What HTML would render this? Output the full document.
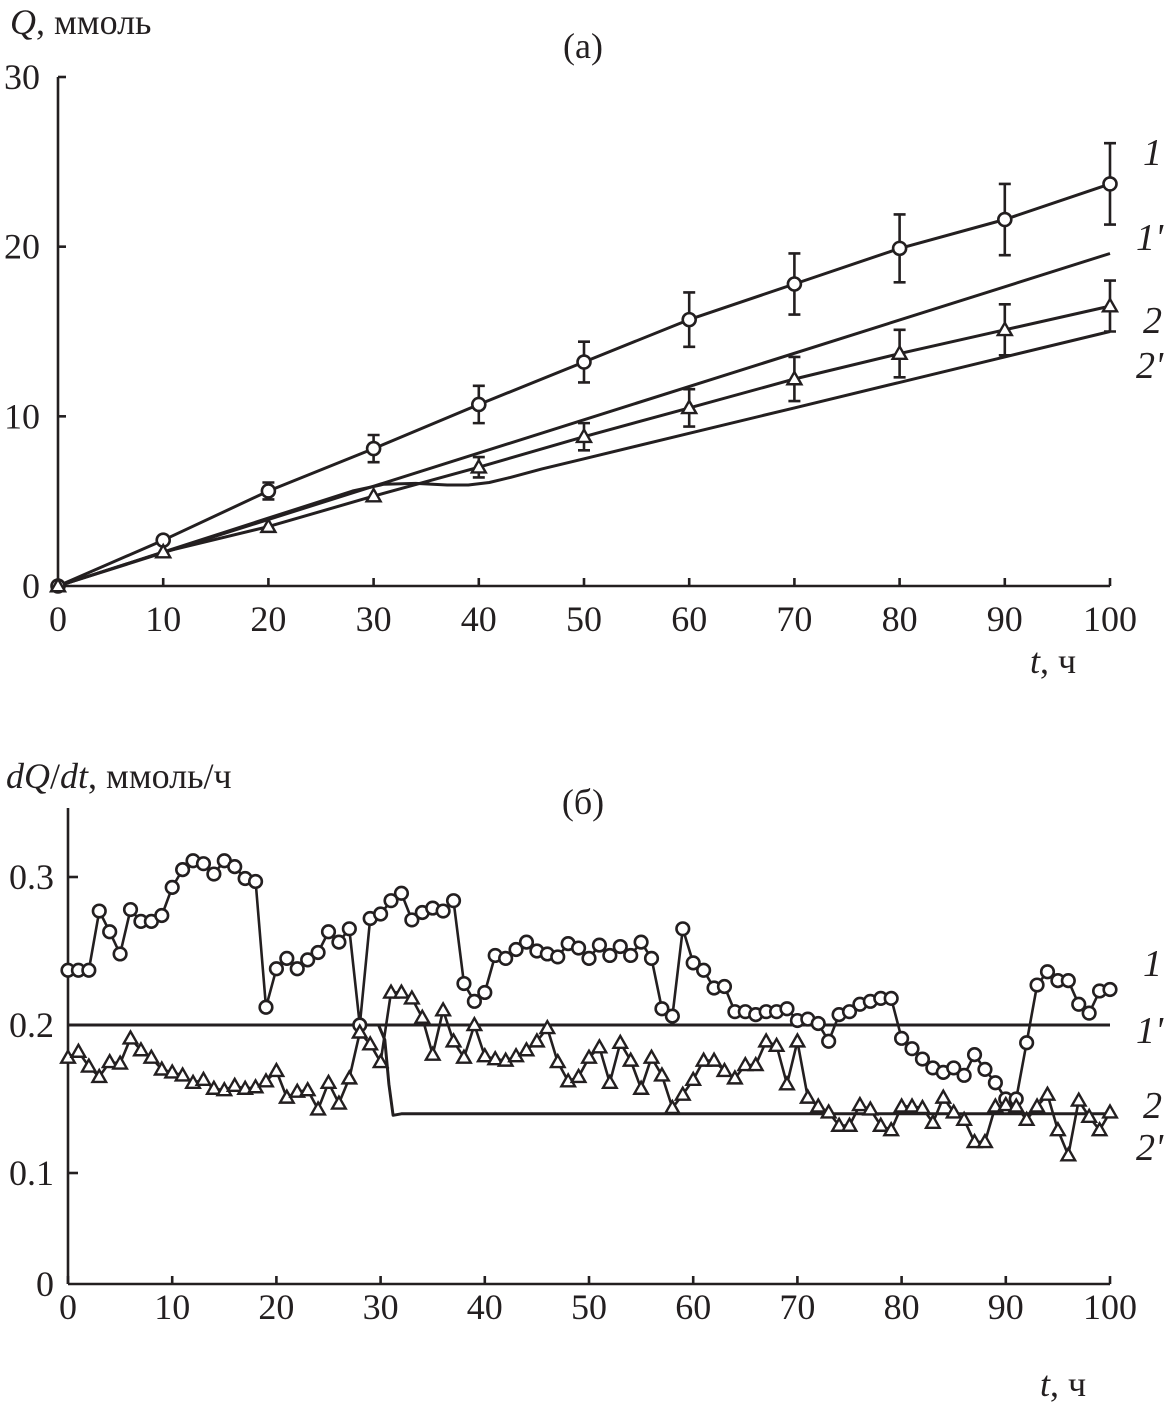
<!DOCTYPE html>
<html><head><meta charset="utf-8"><style>
html,body{margin:0;padding:0;background:#fff}
svg{display:block}
text{font-family:"Liberation Serif",serif;fill:#231f20}
</style></head><body>
<svg id="c" width="1164" height="1416" viewBox="0 0 1164 1416"></svg>
<script>
// ---------- data (a) ----------
const aT = [0,10,20,30,40,50,60,70,80,90,100];
const a1 = [0,2.7,5.6,8.1,10.7,13.2,15.7,17.8,19.9,21.6,23.7];
const a1Err = [0,0,0.5,0.8,1.1,1.2,1.6,1.8,2.0,2.1,2.4];
const a2 = [0,2.0,3.5,5.3,7.0,8.8,10.5,12.2,13.7,15.1,16.5];
const a2Err = [0,0,0,0,0.6,0.8,1.1,1.3,1.4,1.5,1.5];
const a1pT = [0,100];
const a1p = [0,19.6];
const a2pT = [0,10,20,28,31,34,37,39,41,43,46,50,60,70,80,90,100];
const a2p = [0,2.0,4.0,5.6,6.0,6.05,5.95,5.95,6.1,6.4,6.9,7.5,9.0,10.5,12.0,13.5,15.0];
const aXTicks = [0,10,20,30,40,50,60,70,80,90,100];
const aYTicks = [0,10,20,30];
// ---------- data (b) ----------
const b1 = [0.237,0.237,0.237,0.277,0.263,0.248,0.278,0.270,0.270,0.274,0.293,0.305,0.311,0.309,0.302,0.311,0.307,0.299,0.297,0.212,
0.238,0.245,0.238,0.244,0.249,0.263,0.256,0.265,0.200,0.272,0.275,0.284,0.289,0.271,0.276,0.279,0.277,0.284,0.228,0.216,
0.222,0.247,0.245,0.251,0.256,0.250,0.248,0.246,0.255,0.252,0.245,0.254,0.247,0.253,0.247,0.256,0.245,0.211,0.206,0.265,
0.242,0.237,0.225,0.226,0.209,0.209,0.207,0.209,0.209,0.211,0.203,0.204,0.201,0.189,0.207,0.209,0.214,0.216,0.218,0.218,
0.191,0.184,0.177,0.171,0.168,0.171,0.166,0.180,0.170,0.161,0.150,0.150,0.188,0.227,0.236,0.230,0.230,0.214,0.208,0.223,0.224];
const b2 = [0.178,0.182,0.172,0.165,0.175,0.174,0.191,0.183,0.178,0.170,0.168,0.166,0.161,0.163,0.157,0.156,0.159,0.157,0.158,0.162,
0.169,0.151,0.155,0.156,0.143,0.161,0.147,0.164,0.195,0.187,0.175,0.222,0.222,0.218,0.205,0.180,0.210,0.189,0.178,0.200,
0.179,0.177,0.176,0.179,0.183,0.189,0.198,0.175,0.162,0.165,0.178,0.185,0.161,0.188,0.176,0.157,0.178,0.166,0.144,0.153,
0.163,0.176,0.176,0.169,0.164,0.173,0.173,0.189,0.186,0.160,0.189,0.151,0.145,0.141,0.132,0.132,0.146,0.143,0.132,0.129,
0.145,0.145,0.144,0.134,0.151,0.141,0.136,0.121,0.121,0.145,0.146,0.145,0.136,0.145,0.153,0.129,0.112,0.149,0.138,0.129,0.141];
const b1pT = [0,100];
const b1p = [0.2,0.2];
const b2pT = [0,29.8,30.4,30.8,31.2,32,100];
const b2p = [0.2,0.2,0.19,0.16,0.139,0.14,0.14];
const bXTicks = [0,10,20,30,40,50,60,70,80,90,100];
const bYTicks = [0.1,0.2,0.3];

const svg = document.getElementById('c');
const NS = 'http://www.w3.org/2000/svg';
function mk(tag, attrs, parent){const e=document.createElementNS(NS,tag);for(const k in attrs)e.setAttribute(k,attrs[k]);(parent||svg).appendChild(e);return e;}
const stroke = '#231f20';

const ax = t => 58 + t*(1110-58)/100;
const ay = v => 586 - v*(586-77)/30;
const bx = t => 68 + t*(1110-68)/100;
const by = v => 1025 - (v-0.2)*1480;

function poly(xs, ys, fx, fy, name, w){
  const pts = xs.map((x,i)=>fx(x).toFixed(1)+','+fy(ys[i]).toFixed(1)).join(' ');
  const p = mk('polyline',{points:pts,fill:'none',stroke:stroke,'stroke-width':w||3,'stroke-linejoin':'round'});
  
  
  return p;
}
function circle(x,y,name,r){const c=mk('circle',{cx:x,cy:y,r:r||6,fill:'#fff',stroke:stroke,'stroke-width':2.6});
  
  }
function tri(x,y,name,s){s=s||7;const t=mk('polygon',{points:`${x},${y-s} ${x-s},${y+s*0.75} ${x+s},${y+s*0.75}`,fill:'#fff',stroke:stroke,'stroke-width':2.4,'stroke-linejoin':'miter'});
  
  }
function txt(x,y,s,size,name,opts){opts=opts||{};const t=mk('text',{x:x,y:y,'font-size':size,'text-anchor':opts.anchor||'start'});
  if(opts.italic)t.setAttribute('font-style','italic');
  t.innerHTML=s;
  
  return t;}

// ---------- Panel (a) ----------
let l = mk('line',{x1:58,y1:77,x2:58,y2:586,stroke:stroke,'stroke-width':2.6});


l = mk('line',{x1:58,y1:586,x2:1110,y2:586,stroke:stroke,'stroke-width':2.6});


aXTicks.forEach(t=>{
  const k=mk('line',{x1:ax(t),y1:586,x2:ax(t),y2:578,stroke:stroke,'stroke-width':2.6});
  
  
  txt(ax(t),631,t,36,'a-x-tick-label',{anchor:'middle'});
});
aYTicks.forEach(v=>{
  const k=mk('line',{x1:58,y1:ay(v),x2:66,y2:ay(v),stroke:stroke,'stroke-width':2.6});
  
  
  txt(40,ay(v)+12,v,36,'a-y-tick-label',{anchor:'end'});
});
txt(10,34,'<tspan font-style="italic">Q</tspan>, ммоль',36,'a-y-axis-title');
txt(583,58,'(а)',36,'a-panel-title',{anchor:'middle'});
txt(1030,673,'<tspan font-style="italic">t</tspan>, ч',36,'a-x-axis-title');

poly(a1pT,a1p,ax,ay,'a-line-1prime');
poly(a2pT,a2p,ax,ay,'a-line-2prime');
poly(aT,a1,ax,ay,'a-line-1');
poly(aT,a2,ax,ay,'a-line-2');
function errbars(vals,errs,name){
  aT.forEach((t,i)=>{ if(!errs[i])return;
    const x=ax(t), y1=ay(vals[i]+errs[i]), y2=ay(vals[i]-errs[i]);
    const g=mk('path',{d:`M${x},${y1}V${y2}M${x-6},${y1}H${x+6}M${x-6},${y2}H${x+6}`,stroke:stroke,'stroke-width':2.6,fill:'none'});
    
    
  });
}
errbars(a1,a1Err,'a-errorbar-1');
errbars(a2,a2Err,'a-errorbar-2');
aT.forEach((t,i)=>circle(ax(t),ay(a1[i]),'a-point-1',6.5));
aT.forEach((t,i)=>tri(ax(t),ay(a2[i]),'a-point-2',7));
txt(1143,165,'1',38,'a-label-1',{italic:true});
txt(1136,250,"1'",38,'a-label-1prime',{italic:true});
txt(1143,333,'2',38,'a-label-2',{italic:true});
txt(1136,378,"2'",38,'a-label-2prime',{italic:true});

// ---------- Panel (b) ----------
l = mk('line',{x1:68,y1:808,x2:68,y2:1284,stroke:stroke,'stroke-width':2.6});


l = mk('line',{x1:68,y1:1284,x2:1110,y2:1284,stroke:stroke,'stroke-width':2.6});


bXTicks.forEach(t=>{
  const k=mk('line',{x1:bx(t),y1:1284,x2:bx(t),y2:1276,stroke:stroke,'stroke-width':2.6});
  
  
  txt(bx(t),1319,t,36,'b-x-tick-label',{anchor:'middle'});
});
bYTicks.forEach(v=>{
  const k=mk('line',{x1:68,y1:by(v),x2:78,y2:by(v),stroke:stroke,'stroke-width':2.6});
  
  
  txt(54,by(v)+12,v.toFixed(1),36,'b-y-tick-label',{anchor:'end'});
});
txt(54,1296,'0',36,'b-y-tick-label',{anchor:'end'});
txt(6,788,'<tspan font-style="italic">dQ</tspan>/<tspan font-style="italic">dt</tspan>, ммоль/ч',36,'b-y-axis-title');
txt(583,814,'(б)',36,'b-panel-title',{anchor:'middle'});
txt(1040,1396,'<tspan font-style="italic">t</tspan>, ч',36,'b-x-axis-title');

poly(b1pT,b1p,bx,by,'b-line-1prime');
poly(b2pT,b2p,bx,by,'b-line-2prime');
const bT = b1.map((_,i)=>i);
poly(bT,b1,bx,by,'b-line-1',2.6);
poly(bT,b2,bx,by,'b-line-2',2.6);
bT.forEach(i=>circle(bx(i),by(b1[i]),'b-point-1',6.3));
bT.forEach(i=>tri(bx(i),by(b2[i]),'b-point-2',6.8));
txt(1143,976,'1',38,'b-label-1',{italic:true});
txt(1136,1043,"1'",38,'b-label-1prime',{italic:true});
txt(1143,1118,'2',38,'b-label-2',{italic:true});
txt(1136,1160,"2'",38,'b-label-2prime',{italic:true});
</script>
</body></html>
